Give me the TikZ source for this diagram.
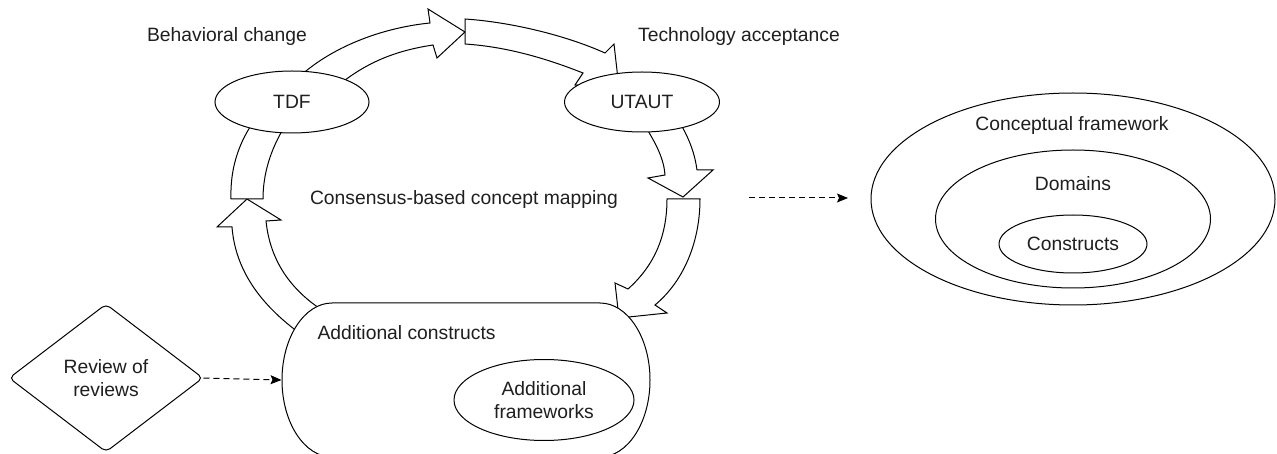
\documentclass[tikz,border=0pt]{standalone}
\usepackage{fontspec}
\setmainfont{Liberation Sans}
\usetikzlibrary{shapes.geometric,arrows.meta}
\begin{document}
\begin{tikzpicture}[x=1pt,y=-1pt,
  line width=1pt,
  every node/.style={font=\fontsize{19.3}{23.5}\selectfont, text=black!88},
  blockarrow/.style={draw=black, fill=white, line join=miter},
  oval/.style={ellipse, draw=black, fill=white, inner sep=0pt, align=center},
  lbl/.style={anchor=base, inner sep=0pt},
  dasharrow/.style={draw=black, dash pattern=on 6pt off 4pt, -{Stealth[length=11pt,width=9pt,inset=2pt]}}
]
\useasboundingbox (0,0) rectangle (1277,454);

% curved block arrows of the cycle
\path[blockarrow] (298,332) .. controls (255,300) and (235,265) .. (232,227)
  -- (217,227) -- (247,199) -- (281,220) -- (266,221)
  .. controls (270,260) and (290,290) .. (325,312) -- cycle;
\path[blockarrow] (231,199) .. controls (230,170) and (238,145) .. (252,124)
  -- (285,126) .. controls (270,150) and (263,175) .. (263,199) -- cycle;
\path[blockarrow] (298,78) .. controls (330,48) and (380,28) .. (430,23)
  -- (428,9) -- (465,32) -- (437,58) -- (433,45)
  .. controls (400,50) and (370,60) .. (340,84) -- cycle;
\path[blockarrow] (465,19) .. controls (510,22) and (565,35) .. (605,53)
  -- (614,44) -- (619,88) -- (575,85) -- (583,73)
  .. controls (550,60) and (510,47) .. (465,44) -- cycle;
\path[blockarrow] (645,126) .. controls (657,145) and (664,160) .. (665,175)
  -- (648,178) -- (683,197) -- (713,170) -- (697,170)
  .. controls (695,155) and (690,140) .. (680,123) -- cycle;
\path[blockarrow] (667,199) .. controls (667,235) and (655,265) .. (628,289)
  -- (615,283) -- (619,318) -- (667,313) -- (655,305)
  .. controls (685,280) and (700,240) .. (700,199) -- cycle;

% theory ellipses
\node[oval, minimum width=154pt, minimum height=62pt] (tdf) at (292,102) {TDF};
\node[oval, minimum width=155pt, minimum height=60pt] (utaut) at (642,102) {UTAUT};

% additional constructs box
\node[inner sep=0pt, minimum width=368pt, minimum height=154pt] (box) at (466,380) {};
\path[draw=black, fill=white] (332,303) -- (600,303)
  .. controls (627.6,303) and (650,337.5) .. (650,380)
  .. controls (650,422.5) and (627.6,457) .. (600,457)
  -- (332,457)
  .. controls (304.4,457) and (282,422.5) .. (282,380)
  .. controls (282,337.5) and (304.4,303) .. (332,303) -- cycle;
\node[lbl, anchor=base west] (addc) at (317,339) {Additional constructs};
\node[oval, minimum width=180pt, minimum height=81pt] (addf) at (544,400) {Additional\\frameworks};

% labels
\node[lbl] (beh) at (227,41.5) {Behavioral change};
\node[lbl] (tech) at (739,41.5) {Technology acceptance};
\node[lbl] (cons) at (464,205) {Consensus-based concept mapping};

% review of reviews
\node[diamond, draw=black, fill=white, rounded corners=5pt, inner sep=0pt, align=center,
  minimum width=194pt, minimum height=148pt] (rev) at (106,378) {Review of\\reviews};
\draw[dasharrow] (rev.east) -- (box.west);

% conceptual framework
\node[oval, minimum width=404pt, minimum height=212pt] (cf) at (1073,199) {};
\node[lbl] (cfl) at (1072,130.7) {Conceptual framework};
\node[oval, minimum width=275pt, minimum height=138pt] (dom) at (1073,219) {};
\node[lbl] (doml) at (1073,190.7) {Domains};
\node[oval, minimum width=148pt, minimum height=58pt] (con) at (1073,244) {Constructs};

\coordinate (m1) at (749,198);
\coordinate (m2) at (848,198);
\draw[dasharrow] (m1) -- (m2);
\end{tikzpicture}
\end{document}
